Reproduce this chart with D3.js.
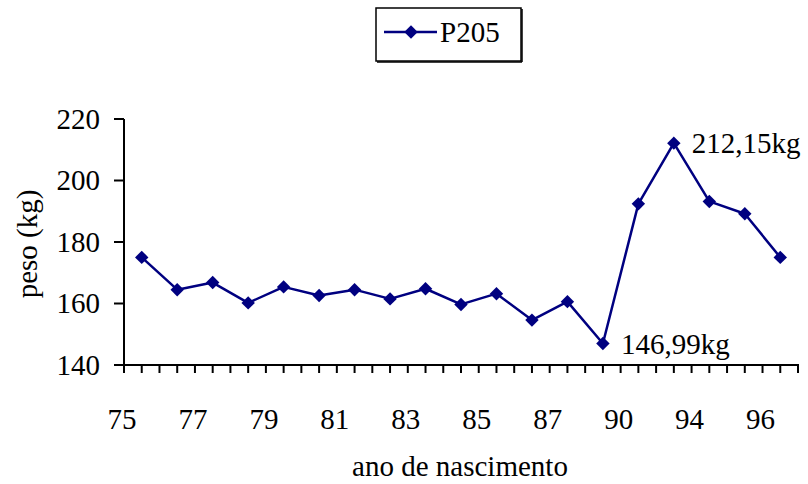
<!DOCTYPE html>
<html>
<head>
<meta charset="utf-8">
<script src="https://cdn.jsdelivr.net/npm/d3@7"></script>
<style>
  html, body { margin: 0; padding: 0; background: #fff; }
  svg { display: block; }
</style>
</head>
<body>
<svg id="chart" width="808" height="484" font-family="'Liberation Serif', 'Times New Roman', Times, serif"></svg>
<script>
// ---- data ----
const categories = ["75","76","77","78","79","80","81","82","83","84","85","86","87","88","90","92","94","95","96"];
const tickLabels = ["75","77","79","81","83","85","87","90","94","96"];
const seriesName = "P205";
const values = [175.0, 164.5, 166.8, 160.2, 165.4, 162.6, 164.5, 161.5, 164.8, 159.7, 163.2, 154.6, 160.6, 146.99, 192.4, 212.15, 193.2, 189.2, 175.0];
const annotations = [
  { index: 15, text: "212,15kg" },
  { index: 13, text: "146,99kg" }
];
const yTicks = [140, 160, 180, 200, 220];

// ---- layout ----
const svg = d3.select("#chart");
const plotL = 124, plotR = 798, plotT = 119, plotB = 365;
const navy = "#000080";
const fontSize = 29;
const serif = "'Liberation Serif', 'Times New Roman', Times, serif";

const x = d3.scaleBand().domain(categories).range([plotL, plotR]).padding(0);
const y = d3.scaleLinear().domain([140, 220]).range([plotB, plotT]);
const bw = x.bandwidth();
const cx = c => x(c) + bw / 2;

function txt(sel) {
  return sel.append("text").attr("font-family", serif).attr("font-size", fontSize).attr("fill", "#000");
}

// axes lines
const axisG = svg.append("g");
axisG.append("line").attr("x1", plotL).attr("x2", plotL).attr("y1", plotT).attr("y2", plotB + 1)
  .attr("stroke", "#000").attr("stroke-width", 2);
axisG.append("line").attr("x1", plotL - 1).attr("x2", plotR + 1).attr("y1", plotB).attr("y2", plotB)
  .attr("stroke", "#000").attr("stroke-width", 2);

// y ticks + labels
yTicks.forEach(v => {
  axisG.append("line").attr("x1", plotL - 10).attr("x2", plotL).attr("y1", y(v)).attr("y2", y(v))
    .attr("stroke", "#000").attr("stroke-width", 2);
  txt(axisG).attr("x", 100).attr("y", y(v)).attr("dy", "0.34em")
    .attr("text-anchor", "end").text(v);
});

// x ticks at band boundaries and centers
const xTickPos = [];
categories.forEach(c => { xTickPos.push(x(c)); xTickPos.push(cx(c)); });
xTickPos.push(plotR);
xTickPos.forEach(p => {
  axisG.append("line").attr("x1", p).attr("x2", p).attr("y1", plotB).attr("y2", plotB + 8)
    .attr("stroke", "#000").attr("stroke-width", 2);
});

// x labels (every other category, at band start)
categories.forEach((c, i) => {
  if (tickLabels.includes(c) && i % 2 === 0) {
    txt(axisG).attr("x", x(c) - 2).attr("y", 429)
      .attr("text-anchor", "middle").text(c);
  }
});

// axis titles
txt(svg).attr("x", 460).attr("y", 476).attr("text-anchor", "middle").text("ano de nascimento");
txt(svg).attr("transform", "translate(37,244) rotate(-90)").attr("text-anchor", "middle").text("peso (kg)");

// line
const line = d3.line().x((d, i) => cx(categories[i])).y(d => y(d));
svg.append("path").datum(values).attr("d", line).attr("fill", "none")
  .attr("stroke", navy).attr("stroke-width", 2.5).attr("stroke-linejoin", "round");

// markers
const diamond = d3.symbol().type(d3.symbolDiamond2).size(115);
svg.append("g").selectAll("path").data(values).join("path")
  .attr("d", diamond)
  .attr("transform", (d, i) => `translate(${cx(categories[i])},${y(d)})`)
  .attr("fill", navy);

// annotations
annotations.forEach(a => {
  txt(svg).attr("x", cx(categories[a.index]) + 18).attr("y", y(values[a.index]) + 10).text(a.text);
});

// legend
const lg = svg.append("g");
lg.append("rect").attr("x", 376).attr("y", 8).attr("width", 145).attr("height", 53)
  .attr("fill", "#fff").attr("stroke", "#000").attr("stroke-width", 1.5);
lg.append("line").attr("x1", 522).attr("x2", 522).attr("y1", 9).attr("y2", 62)
  .attr("stroke", "#000").attr("stroke-width", 1.5);
lg.append("line").attr("x1", 377).attr("x2", 522).attr("y1", 62).attr("y2", 62)
  .attr("stroke", "#000").attr("stroke-width", 1.5);
lg.append("line").attr("x1", 384).attr("x2", 437).attr("y1", 32).attr("y2", 32)
  .attr("stroke", navy).attr("stroke-width", 2.5);
lg.append("path").attr("d", diamond).attr("transform", "translate(411,32)").attr("fill", navy);
txt(lg).attr("x", 440).attr("y", 42).text(seriesName);
</script>
</body>
</html>
